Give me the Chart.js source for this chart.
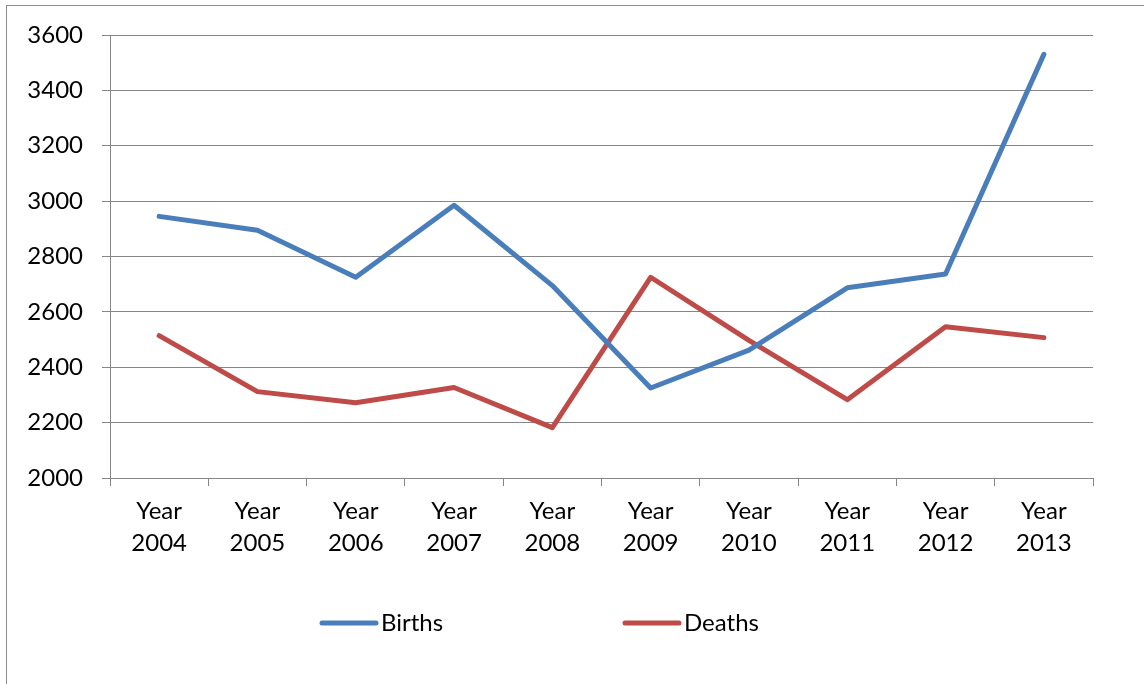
<!DOCTYPE html>
<html>
<head>
<meta charset="utf-8">
<script src="https://cdn.jsdelivr.net/npm/chart.js@4/dist/chart.umd.min.js"></script>
<style>
  html, body { margin: 0; padding: 0; background: #ffffff; overflow: hidden; }
  #wrap { position: relative; width: 1144px; height: 684px; }
  #frame { position: absolute; left: 6px; top: 5px; width: 1160px; height: 700px;
           border: 1.5px solid #8c8c8c; box-sizing: border-box; }
  canvas { position: absolute; left: 0; top: 0; }
</style>
</head>
<body>
<div id="wrap">
  <div id="frame"></div>
  <canvas id="c" width="1144" height="684"></canvas>
</div>
<script>
// Yearly births and deaths, 2004–2013
const years = ['2004', '2005', '2006', '2007', '2008', '2009', '2010', '2011', '2012', '2013'];
const categoryLabels = years.map(y => ['Year', y]);
const births = [2945, 2895, 2725, 2985, 2695, 2325, 2462, 2687, 2737, 3530];
const deaths = [2514, 2312, 2272, 2327, 2182, 2725, 2497, 2283, 2546, 2507];
const yTicks = [2000, 2200, 2400, 2600, 2800, 3000, 3200, 3400, 3600];

const FONT = 'Lato, "Liberation Sans", sans-serif';
const FONT_SIZE = 24;
const GRID = '#868686';

// Legend drawn below the axes: a short line sample followed by the series name
const lineLegend = {
  id: 'lineLegend',
  afterDraw(chart, args, opts) {
    const ctx = chart.ctx;
    ctx.save();
    ctx.font = opts.fontSize + 'px ' + FONT;
    ctx.textBaseline = 'middle';
    ctx.textAlign = 'left';
    chart.data.datasets.forEach((ds, i) => {
      const x0 = opts.starts[i];
      ctx.beginPath();
      ctx.strokeStyle = ds.borderColor;
      ctx.lineWidth = ds.borderWidth;
      ctx.lineCap = 'round';
      ctx.moveTo(x0, opts.y);
      ctx.lineTo(x0 + opts.sample, opts.y);
      ctx.stroke();
      ctx.fillStyle = '#000000';
      ctx.fillText(ds.label, x0 + opts.sample + opts.gap, opts.y);
    });
    ctx.restore();
  }
};

new Chart(document.getElementById('c'), {
  type: 'line',
  data: {
    labels: categoryLabels,
    datasets: [
      { label: 'Births', data: births, borderColor: '#4A7EBB', backgroundColor: '#4A7EBB',
        borderWidth: 5, borderCapStyle: 'round', borderJoinStyle: 'round',
        pointRadius: 0, pointHoverRadius: 0, tension: 0, fill: false },
      { label: 'Deaths', data: deaths, borderColor: '#BE4B48', backgroundColor: '#BE4B48',
        borderWidth: 5, borderCapStyle: 'round', borderJoinStyle: 'round',
        pointRadius: 0, pointHoverRadius: 0, tension: 0, fill: false }
    ]
  },
  options: {
    responsive: false,
    animation: false,
    devicePixelRatio: 1,
    layout: { padding: { left: 0, top: 35, right: 51, bottom: 0 } },
    plugins: {
      legend: { display: false },
      tooltip: { enabled: false },
      lineLegend: { starts: [322, 625], y: 623, sample: 54, gap: 5, fontSize: FONT_SIZE }
    },
    scales: {
      x: {
        offset: true,
        grid: { offset: true, drawOnChartArea: false, drawTicks: true, tickLength: 8,
                color: GRID, lineWidth: 1 },
        border: { display: true, color: GRID, width: 1 },
        ticks: { color: '#000000', font: { family: FONT, size: FONT_SIZE, lineHeight: 1.33 },
                 padding: 9, maxRotation: 0, autoSkip: false },
        afterFit(s) { s.height = 206; }
      },
      y: {
        min: yTicks[0],
        max: yTicks[yTicks.length - 1],
        afterBuildTicks(s) { s.ticks = yTicks.map(v => ({ value: v })); },
        grid: { drawTicks: true, tickLength: 8, color: GRID, lineWidth: 1 },
        border: { display: true, color: GRID, width: 1 },
        ticks: { color: '#000000', font: { family: FONT, size: FONT_SIZE }, padding: 19,
                 callback: v => String(v) },
        afterFit(s) { s.width = 110; }
      }
    }
  },
  plugins: [lineLegend]
});
</script>
</body>
</html>
